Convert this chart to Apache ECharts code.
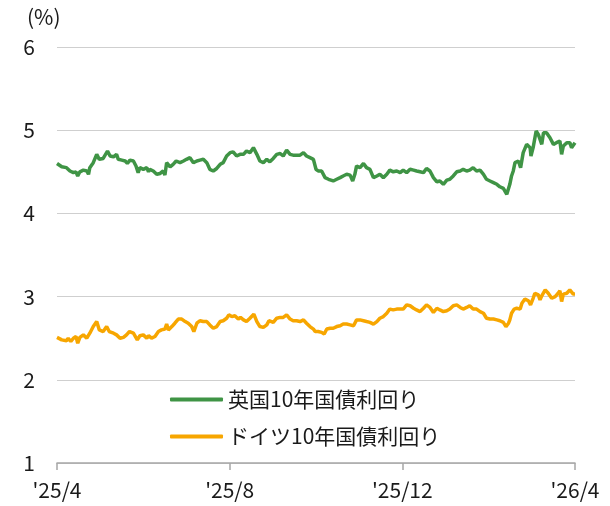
<!DOCTYPE html>
<html>
<head>
<meta charset="utf-8">
<script src="https://cdn.jsdelivr.net/npm/echarts@6/dist/echarts.min.js"></script>
<style>
  html, body { margin: 0; padding: 0; background: #fff; }
  #chart { width: 610px; height: 506px; }
</style>
</head>
<body>
<div id="chart"></div>
<script>
// x は 2025年4月からの経過月数
const xTickLabels = ["'25/4", "'25/8", "'25/12", "'26/4"]

const ukMonths = [
  0.00, 0.11, 0.22, 0.30, 0.38, 0.44, 0.48, 0.53, 0.61, 0.69, 0.73, 0.76, 0.84, 0.92, 0.98, 1.07, 1.11, 1.17, 1.23, 1.31,
  1.38, 1.42, 1.50, 1.58, 1.63, 1.69, 1.77, 1.83, 1.88, 1.92, 2.00, 2.08, 2.12, 2.15, 2.23, 2.31, 2.39, 2.46, 2.50, 2.54,
  2.62, 2.69, 2.76, 2.85, 2.93, 3.00, 3.08, 3.16, 3.24, 3.31, 3.39, 3.47, 3.54, 3.62, 3.70, 3.78, 3.85, 3.93, 4.01, 4.08,
  4.16, 4.24, 4.32, 4.39, 4.47, 4.55, 4.63, 4.70, 4.78, 4.86, 4.93, 5.01, 5.09, 5.17, 5.24, 5.32, 5.40, 5.47, 5.55, 5.63,
  5.71, 5.78, 5.86,
  5.94, 6.00, 6.05, 6.13, 6.21, 6.29, 6.40, 6.48, 6.56, 6.63, 6.71, 6.79, 6.85, 6.90, 6.94, 7.02, 7.10, 7.17, 7.25, 7.33,
  7.41, 7.48, 7.56, 7.64, 7.71, 7.79, 7.87, 7.95, 8.02, 8.10, 8.18, 8.26, 8.33, 8.41, 8.49, 8.56, 8.64, 8.72, 8.80, 8.87,
  8.95, 9.03, 9.10, 9.18, 9.26, 9.34, 9.41, 9.49, 9.56, 9.64, 9.72, 9.80, 9.88, 9.95, 10.03, 10.11, 10.19, 10.26, 10.34, 10.42,
  10.49, 10.53, 10.57, 10.61, 10.69, 10.74, 10.80, 10.88, 10.96, 10.98, 11.03, 11.10, 11.15, 11.19, 11.23, 11.27, 11.34, 11.42, 11.50, 11.57,
  11.65, 11.69, 11.73, 11.81, 11.85, 11.88, 11.92, 12.00
]
const ukYield = [
  4.60, 4.56, 4.55, 4.51, 4.49, 4.50, 4.45, 4.50, 4.52, 4.51, 4.47, 4.55, 4.61, 4.71, 4.65, 4.66, 4.67, 4.75, 4.69, 4.68,
  4.71, 4.65, 4.64, 4.63, 4.60, 4.64, 4.63, 4.57, 4.49, 4.55, 4.53, 4.55, 4.50, 4.53, 4.51, 4.47, 4.48, 4.51, 4.46, 4.61,
  4.56, 4.59, 4.63, 4.61, 4.63, 4.65, 4.67, 4.61, 4.63, 4.64, 4.65, 4.61, 4.53, 4.51, 4.54, 4.59, 4.61, 4.69, 4.73, 4.74,
  4.69, 4.71, 4.71, 4.75, 4.73, 4.79, 4.71, 4.63, 4.61, 4.65, 4.62, 4.66, 4.71, 4.72, 4.69, 4.76, 4.71, 4.70, 4.70, 4.70,
  4.73, 4.69, 4.67,
  4.65, 4.53, 4.51, 4.51, 4.43, 4.41, 4.39, 4.41, 4.43, 4.45, 4.47, 4.46, 4.39, 4.47, 4.57, 4.55, 4.60, 4.55, 4.53, 4.43,
  4.45, 4.47, 4.43, 4.47, 4.52, 4.50, 4.51, 4.49, 4.52, 4.49, 4.53, 4.52, 4.51, 4.50, 4.49, 4.54, 4.51, 4.43, 4.38, 4.39,
  4.35, 4.40, 4.41, 4.45, 4.50, 4.51, 4.53, 4.51, 4.52, 4.55, 4.51, 4.52, 4.47, 4.41, 4.39, 4.37, 4.35, 4.32, 4.30, 4.23,
  4.35, 4.45, 4.51, 4.61, 4.63, 4.55, 4.73, 4.83, 4.79, 4.69, 4.79, 4.99, 4.95, 4.95, 4.83, 4.97, 4.97, 4.91, 4.83, 4.85,
  4.87, 4.71, 4.81, 4.85, 4.87, 4.85, 4.79, 4.85
]

const deMonths = [
  0.00, 0.11, 0.22, 0.26, 0.32, 0.38, 0.44, 0.48, 0.53, 0.61, 0.69, 0.73, 0.76, 0.84, 0.92, 0.98, 1.07, 1.15, 1.21, 1.31,
  1.38, 1.46, 1.54, 1.61, 1.68, 1.77, 1.86, 1.92, 2.00, 2.08, 2.12, 2.19, 2.27, 2.35, 2.42, 2.50, 2.54, 2.58, 2.66, 2.73,
  2.81, 2.89, 2.97, 3.04, 3.12, 3.17, 3.24, 3.31, 3.39, 3.47, 3.54, 3.62, 3.70, 3.78, 3.85, 3.93, 3.98, 4.05, 4.12, 4.20,
  4.25, 4.32, 4.39, 4.47, 4.56, 4.63, 4.70, 4.78, 4.86, 4.91, 5.01, 5.09, 5.17, 5.24, 5.32, 5.40, 5.47, 5.55, 5.63, 5.71,
  5.78, 5.86,
  5.94, 5.98, 6.05, 6.13, 6.19, 6.25, 6.33, 6.40, 6.48, 6.56, 6.63, 6.71, 6.79, 6.87, 6.90, 6.94, 7.02, 7.10, 7.17, 7.25,
  7.33, 7.41, 7.48, 7.56, 7.64, 7.71, 7.79, 7.87, 7.95, 8.02, 8.10, 8.18, 8.26, 8.33, 8.41, 8.49, 8.56, 8.64, 8.72, 8.80,
  8.87, 8.95, 9.03, 9.10, 9.18, 9.26, 9.34, 9.41, 9.49, 9.56, 9.64, 9.72, 9.80, 9.88, 9.95, 10.03, 10.11, 10.19, 10.26, 10.34,
  10.40, 10.46, 10.49, 10.53, 10.59, 10.65, 10.73, 10.77, 10.84, 10.92, 10.97, 11.03, 11.07, 11.15, 11.19, 11.23, 11.31, 11.38, 11.46, 11.54,
  11.61, 11.65, 11.69, 11.73, 11.81, 11.88, 11.96, 12.00
]
const deYield = [
  2.51, 2.48, 2.47, 2.50, 2.46, 2.50, 2.52, 2.44, 2.51, 2.54, 2.50, 2.48, 2.56, 2.64, 2.70, 2.60, 2.58, 2.64, 2.58, 2.56,
  2.54, 2.50, 2.51, 2.54, 2.58, 2.56, 2.48, 2.53, 2.54, 2.50, 2.53, 2.50, 2.52, 2.58, 2.60, 2.61, 2.67, 2.60, 2.64, 2.68,
  2.73, 2.73, 2.70, 2.68, 2.64, 2.58, 2.68, 2.71, 2.70, 2.70, 2.66, 2.62, 2.64, 2.70, 2.71, 2.74, 2.78, 2.76, 2.77, 2.73,
  2.75, 2.72, 2.70, 2.74, 2.79, 2.70, 2.64, 2.63, 2.66, 2.71, 2.69, 2.74, 2.75, 2.75, 2.78, 2.73, 2.71, 2.71, 2.70, 2.72,
  2.68, 2.64,
  2.61, 2.58, 2.58, 2.57, 2.55, 2.61, 2.62, 2.62, 2.64, 2.65, 2.67, 2.67, 2.66, 2.65, 2.64, 2.72, 2.72, 2.71, 2.70, 2.69,
  2.67, 2.70, 2.74, 2.76, 2.80, 2.85, 2.84, 2.85, 2.85, 2.85, 2.90, 2.89, 2.86, 2.84, 2.82, 2.86, 2.90, 2.87, 2.81, 2.86,
  2.84, 2.82, 2.83, 2.85, 2.89, 2.90, 2.87, 2.85, 2.87, 2.89, 2.85, 2.85, 2.82, 2.80, 2.74, 2.73, 2.73, 2.72, 2.71, 2.69,
  2.64, 2.68, 2.72, 2.80, 2.85, 2.86, 2.85, 2.92, 2.97, 2.95, 2.90, 2.98, 3.04, 3.02, 2.96, 3.01, 3.08, 3.04, 2.98, 3.00,
  3.04, 3.07, 2.94, 3.03, 3.04, 3.08, 3.03, 3.03
]

const font = "'Noto Sans CJK JP', 'Noto Sans', sans-serif"
const zip = (xs, ys) => xs.map((x, i) => [x, ys[i]])

const chart = echarts.init(document.getElementById('chart'))
chart.setOption({
  backgroundColor: '#fff',
  animation: false,
  textStyle: { fontFamily: font },
  title: {
    text: '(%)',
    left: 22,
    top: 2,
    textStyle: { fontSize: 21, fontWeight: 'normal', color: '#1a1a1a', fontFamily: font }
  },
  legend: {
    orient: 'vertical',
    left: 170,
    top: 389,
    padding: 0,
    itemGap: 16,
    itemWidth: 53,
    itemHeight: 4,
    icon: 'roundRect',
    textStyle: { fontSize: 21, color: '#1a1a1a', fontFamily: font },
    data: ['英国10年国債利回り', 'ドイツ10年国債利回り']
  },
  grid: { left: 57, right: 35, top: 47, bottom: 43 },
  xAxis: {
    type: 'value',
    min: 0,
    max: 12,
    interval: 4,
    axisLine: { lineStyle: { color: '#a6a6a6', width: 1.5 } },
    axisTick: { show: true, length: 7, lineStyle: { color: '#a6a6a6', width: 1.5 } },
    splitLine: { show: false },
    axisLabel: {
      margin: 17,
      fontSize: 21,
      color: '#1a1a1a',
      fontFamily: font,
      formatter: v => xTickLabels[Math.round(v / 4)]
    }
  },
  yAxis: {
    type: 'value',
    min: 1,
    max: 6,
    interval: 1,
    axisLine: { show: false },
    axisTick: { show: false },
    splitLine: { lineStyle: { color: '#cfcfcf', width: 1.2 } },
    axisLabel: { margin: 22, fontSize: 21, color: '#1a1a1a', fontFamily: font }
  },
  series: [
    {
      name: '英国10年国債利回り',
      type: 'line',
      symbol: 'none',
      data: zip(ukMonths, ukYield),
      itemStyle: { color: '#3f9445' },
      lineStyle: { color: '#3f9445', width: 3.5 }
    },
    {
      name: 'ドイツ10年国債利回り',
      type: 'line',
      symbol: 'none',
      data: zip(deMonths, deYield),
      itemStyle: { color: '#f7a600' },
      lineStyle: { color: '#f7a600', width: 3.5 }
    }
  ]
})
</script>
</body>
</html>
